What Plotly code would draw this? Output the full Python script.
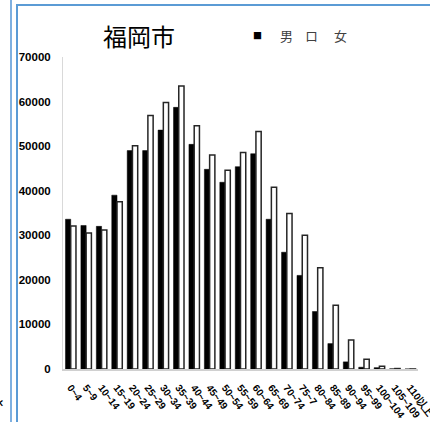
import plotly.graph_objects as go

# 年齢階級別人口（福岡市）
age_groups = ["0~4", "5~9", "10~14", "15~19", "20~24", "25~29", "30~34",
              "35~39", "40~44", "45~49", "50~54", "55~59", "60~64", "65~69",
              "70~74", "75~7", "80~84", "85~89", "90~94", "95~99",
              "100~104", "105~109", "110以上"]
male = [33600, 32200, 32000, 39000, 49000, 49000, 53600, 58700, 50400, 44800,
        41900, 45400, 48300, 33600, 26200, 21000, 12900, 5700, 1600, 400,
        300, 40, 5]
female = [32100, 30500, 31200, 37500, 50100, 56900, 59800, 63500, 54600, 48000,
          44600, 48600, 53300, 40800, 34900, 30000, 22700, 14300, 6500, 2200,
          600, 100, 10]
y_ticks = [0, 10000, 20000, 30000, 40000, 50000, 60000, 70000]

# plot area in pixels
W, H = 430, 422
L, R, T, B = 63, 12, 57, 53
PW, PH = W - L - R, H - T - B


def px(x):
    return (x - L) / PW


def py(y):
    return (H - B - y) / PH


fig = go.Figure()
fig.add_bar(x=age_groups, y=male, name="男",
            marker=dict(color="#000000", line=dict(color="#000000", width=0.5)))
fig.add_bar(x=age_groups, y=female, name="女",
            marker=dict(color="#ffffff", line=dict(color="#262626", width=1.5)))

frame = "#5b9bd5"
shapes = [
    dict(type="line", xref="paper", yref="paper", x0=px(17), x1=px(440),
         y0=py(5), y1=py(5), line=dict(color=frame, width=2)),
    dict(type="line", xref="paper", yref="paper", x0=px(17), x1=px(17),
         y0=py(4), y1=py(430), line=dict(color=frame, width=2)),
    dict(type="line", xref="paper", yref="paper", x0=px(11), x1=px(11),
         y0=py(-5), y1=py(430), line=dict(color="#7fb0e0", width=2)),
]


def label(text, x, y, font, angle=0):
    return dict(text=text, x=px(x), y=py(y), xref="paper", yref="paper",
                xanchor="center", yanchor="middle", showarrow=False,
                textangle=angle, font=font)


legend_font = dict(family="Noto Sans CJK JP", size=13, color="#404040")
annotations = [
    label("福岡市", 139, 35, dict(family="Noto Sans CJK JP", size=24, color="#000000")),
    label("■", 257.5, 35, dict(family="Noto Sans CJK JP", size=9, color="#000000")),
    label("男", 286.5, 35, legend_font),
    label("ロ", 311, 35, legend_font),
    label("女", 340, 35, legend_font),
    label("以上", -3, 399, dict(family="Noto Sans CJK JP", size=10, color="#000000",
                               weight="bold"), angle=52),
]

fig.update_layout(
    width=W, height=H,
    margin=dict(l=L, r=R, t=T, b=B, autoexpand=False),
    paper_bgcolor="#ffffff", plot_bgcolor="#ffffff",
    barmode="group", bargap=0.32, bargroupgap=0.0,
    showlegend=False,
    shapes=shapes, annotations=annotations,
    xaxis=dict(
        type="category", tickangle=52, ticks="outside", ticklen=7,
        tickcolor="rgba(0,0,0,0)", showline=True, linecolor="#d0d0d0", linewidth=2,
        showgrid=False, automargin=False,
        tickfont=dict(family="Liberation Sans", size=10, color="#000000", weight="bold"),
    ),
    yaxis=dict(
        range=[0, 70000], tickvals=y_ticks, ticktext=[str(v) for v in y_ticks],
        ticks="outside", ticklen=9, tickcolor="rgba(0,0,0,0)",
        showline=True, linecolor="#d9d9d9", linewidth=1,
        showgrid=False, zeroline=False, automargin=False,
        tickfont=dict(family="Liberation Sans", size=11.5, color="#000000", weight="bold"),
    ),
)

fig.write_html("out.html")
